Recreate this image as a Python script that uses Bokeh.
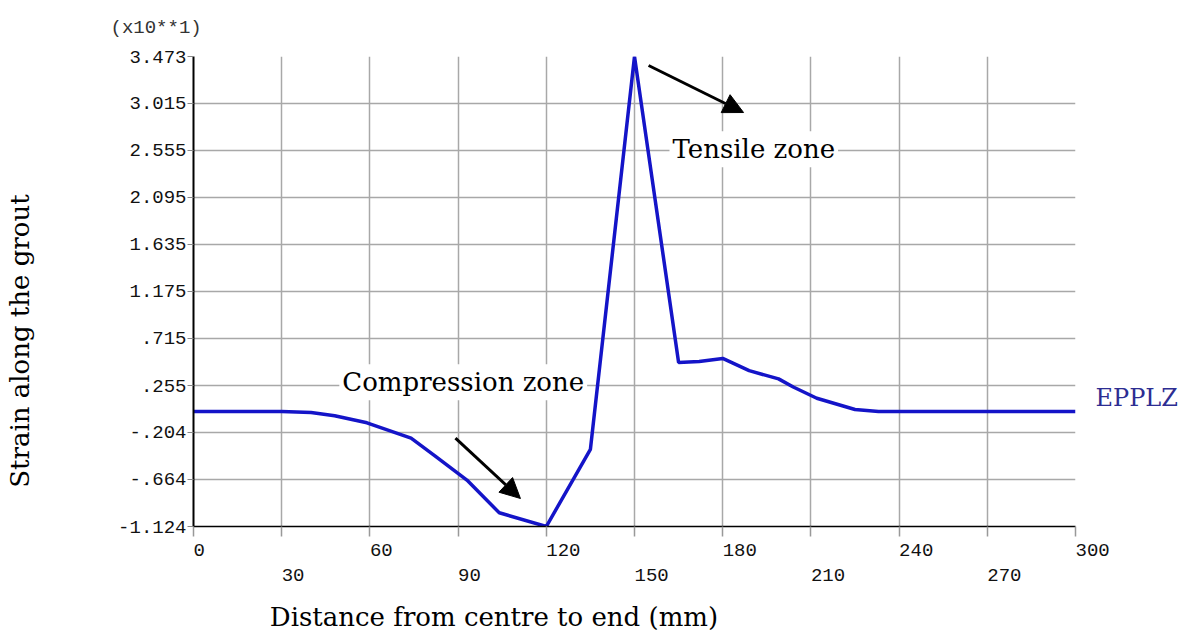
from bokeh.plotting import figure
from bokeh.models import FixedTicker, LinearAxis, Label, Arrow, NormalHead, Range1d, Title
from bokeh.embed import file_html
from bokeh.resources import INLINE

# ---- data (strain shown in units of x10**1) ----
x_mm = [0, 30, 40, 48, 59, 74, 82, 93, 104, 120, 135, 150, 165, 172, 180, 189, 199, 204, 212, 225, 233, 300]
strain = [0.0, 0.0, -0.01, -0.04, -0.11, -0.26, -0.43, -0.67, -0.99, -1.124, -0.37, 3.473,
          0.48, 0.49, 0.52, 0.40, 0.32, 0.24, 0.13, 0.02, 0.0, 0.0]

x_ticks_all = [0, 30, 60, 90, 120, 150, 180, 210, 240, 270, 300]
x_ticks_row1 = [0, 60, 120, 180, 240, 300]
x_ticks_row2 = [30, 90, 150, 210, 270]
y_ticks = [-1.124, -0.664, -0.204, 0.255, 0.715, 1.175, 1.635, 2.095, 2.555, 3.015, 3.473]
y_tick_labels = ["-1.124", "-.664", "-.204", ".255", ".715", "1.175", "1.635", "2.095", "2.555", "3.015", "3.473"]

series_name = "EPPLZ"
series_label_y = 0.13
x_title = "Distance from centre to end (mm)"
y_title = "Strain along the grout"
scale_note = "(x10**1)"

TICK_FONT = "Liberation Mono"
SERIF = "DejaVu Serif"
NB = "\u00a0"


def left_aligned(s):
    return NB * len(s) + s


p = figure(width=1190, height=634, output_backend="svg", toolbar_location=None,
           x_range=Range1d(0, 300), y_range=Range1d(-1.124, 3.473),
           min_border_left=193, min_border_right=115, min_border_top=56, min_border_bottom=108)
p.outline_line_color = None
p.background_fill_color = "white"
p.border_fill_color = "white"

p.line(x_mm, strain, line_color="#1414c8", line_width=3.5)

# grid
p.xgrid.ticker = FixedTicker(ticks=x_ticks_all)
p.ygrid.ticker = FixedTicker(ticks=y_ticks)
for g in (p.xgrid[0], p.ygrid[0]):
    g.grid_line_color = "#a8a8a8"
    g.grid_line_width = 1.5

# bottom axis (row 1)
xa = p.xaxis[0]
xa.ticker = FixedTicker(ticks=x_ticks_all)
xa.major_label_overrides = {t: (left_aligned(str(t)) if t in x_ticks_row1 else "") for t in x_ticks_all}
xa.axis_line_color = "black"
xa.axis_line_width = 1.5
xa.major_tick_line_color = "#999999"
xa.major_tick_line_width = 1.5
xa.major_tick_out = 10
xa.major_tick_in = 0
xa.minor_tick_line_color = None
xa.major_label_standoff = 3
xa.major_label_text_font = TICK_FONT
xa.major_label_text_font_size = "19px"
xa.major_label_text_color = "#111111"

# bottom axis (row 2) carrying the x title
xa2 = LinearAxis(ticker=FixedTicker(ticks=x_ticks_row2),
                 major_label_overrides={t: left_aligned(str(t)) for t in x_ticks_row2},
                 axis_line_color=None, major_tick_line_color=None, minor_tick_line_color=None,
                 major_tick_out=0, major_tick_in=0, major_label_standoff=0,
                 major_label_text_font=TICK_FONT, major_label_text_font_size="19px",
                 major_label_text_color="#111111",
                 axis_label=x_title + NB * 34, axis_label_standoff=12,
                 axis_label_text_font=SERIF, axis_label_text_font_size="26px",
                 axis_label_text_font_style="normal", axis_label_text_color="black")
p.add_layout(xa2, "below")

# left axis
ya = p.yaxis[0]
ya.ticker = FixedTicker(ticks=y_ticks)
ya.major_label_overrides = {t: l for t, l in zip(y_ticks, y_tick_labels)}
ya.axis_line_color = "black"
ya.axis_line_width = 2
ya.major_tick_line_color = "#888888"
ya.major_tick_out = 6
ya.major_tick_in = 0
ya.minor_tick_line_color = None
ya.major_label_standoff = 1
ya.major_label_text_font = TICK_FONT
ya.major_label_text_font_size = "19px"
ya.major_label_text_color = "#111111"
ya.axis_label = y_title + NB * 12
ya.axis_label_standoff = 80
ya.axis_label_text_font = SERIF
ya.axis_label_text_font_size = "26px"
ya.axis_label_text_font_style = "normal"
ya.axis_label_text_color = "black"

# series name at the right end of the curve
ra = LinearAxis(ticker=FixedTicker(ticks=[series_label_y]),
                major_label_overrides={series_label_y: series_name},
                axis_line_color=None, major_tick_line_color=None, minor_tick_line_color=None,
                major_tick_out=0, major_tick_in=0, major_label_standoff=20,
                major_label_text_font=SERIF, major_label_text_font_size="24px",
                major_label_text_color="#2d2d92")
p.add_layout(ra, "right")

# scale note above the y axis
p.add_layout(Title(text=scale_note, align="left", offset=-83, vertical_align="top", standoff=32,
                   text_font=TICK_FONT, text_font_size="19px", text_font_style="normal",
                   text_color="#333333"), "above")

# annotations
p.add_layout(Label(x=49.6, y=0.286, text="Compression zone", text_align="left", text_baseline="alphabetic",
                   text_font=SERIF, text_font_size="26px", text_color="black",
                   background_fill_color="white", padding=3))
p.add_layout(Label(x=161.9, y=2.565, text="Tensile zone", text_align="left", text_baseline="alphabetic",
                   text_font=SERIF, text_font_size="26px", text_color="black",
                   background_fill_color="white", padding=3))
p.add_layout(Arrow(end=NormalHead(size=20, fill_color="black", line_color="black"),
                   x_start=89.1, y_start=-0.26, x_end=111.2, y_end=-0.85,
                   line_width=3, line_color="black"))
p.add_layout(Arrow(end=NormalHead(size=20, fill_color="black", line_color="black"),
                   x_start=154.8, y_start=3.385, x_end=187.1, y_end=2.925,
                   line_width=3, line_color="black"))

open("out.html", "w").write(file_html(p, INLINE))
